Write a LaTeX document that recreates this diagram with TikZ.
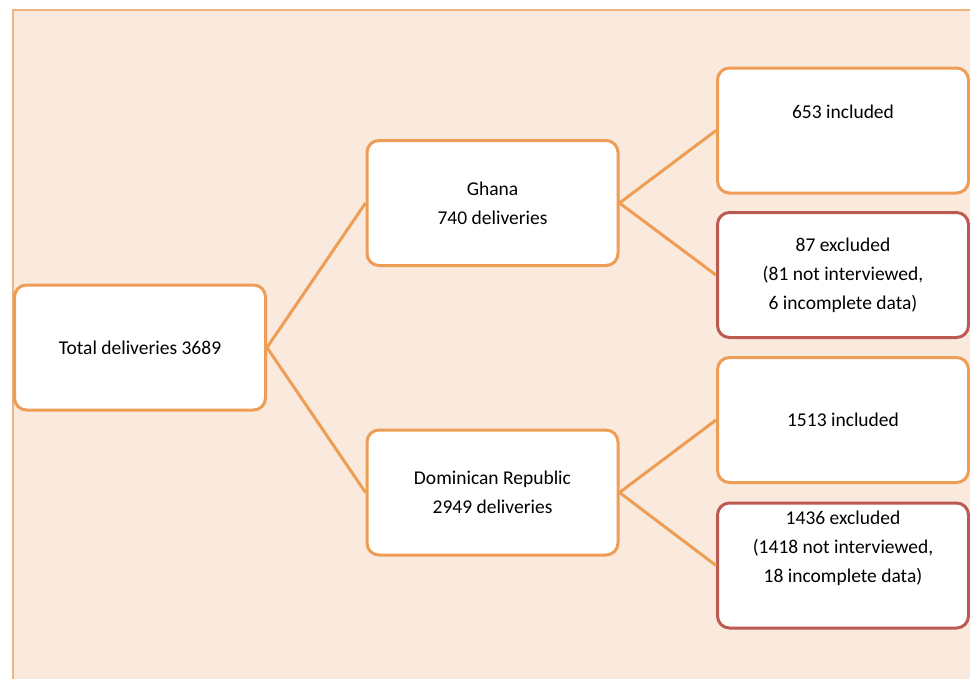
\documentclass[tikz,border=0pt]{standalone}
\usepackage{fontspec}
\setmainfont{Carlito}
\usetikzlibrary{positioning}

\definecolor{bgpeach}{HTML}{FAE9DD}
\definecolor{frameorange}{HTML}{F2B27E}
\definecolor{boxorange}{HTML}{EE9D55}
\definecolor{boxred}{HTML}{BC5A52}

\tikzset{
    flowbox/.style={draw=boxorange, fill=white, line width=3pt, rounded corners=12pt,
        minimum width=251pt, minimum height=125pt, inner sep=0pt, align=center,
        font=\fontsize{19.5}{29}\selectfont},
    exclbox/.style={flowbox, draw=boxred},
    branch/.style={draw=boxorange, line width=3pt}
}

\begin{document}
\begin{tikzpicture}[x=1pt,y=-1pt]
    % page size and background panel
    \useasboundingbox (0,0) rectangle (970,678);
    \clip (0,0) rectangle (970,678);
    \draw[fill=bgpeach, draw=frameorange, line width=1.5pt] (13,10) rectangle (990,700);

    % boxes
    \node[flowbox] (total) at (140,347.5) {Total deliveries 3689};
    \node[flowbox] (ghana) at (492.5,203) {Ghana\\740 deliveries};
    \node[flowbox] (dr) at (492.5,492.5) {Dominican Republic\\2949 deliveries};
    \node[flowbox] (ghinc) at (843,130.5) {653 included\\ \strut};
    \node[exclbox] (ghexc) at (843,275) {87 excluded\\(81 not interviewed,\\6 incomplete data)};
    \node[flowbox] (drinc) at (843,420) {1513 included};
    \node[exclbox] (drexc) at (843,565.5) {1436 excluded\\(1418 not interviewed,\\18 incomplete data)\\ \strut};

    % connectors
    \draw[branch] (total.east) -- (ghana.west);
    \draw[branch] (total.east) -- (dr.west);
    \draw[branch] (ghana.east) -- (ghinc.west);
    \draw[branch] (ghana.east) -- (ghexc.west);
    \draw[branch] (dr.east) -- (drinc.west);
    \draw[branch] (dr.east) -- (drexc.west);
\end{tikzpicture}
\end{document}
